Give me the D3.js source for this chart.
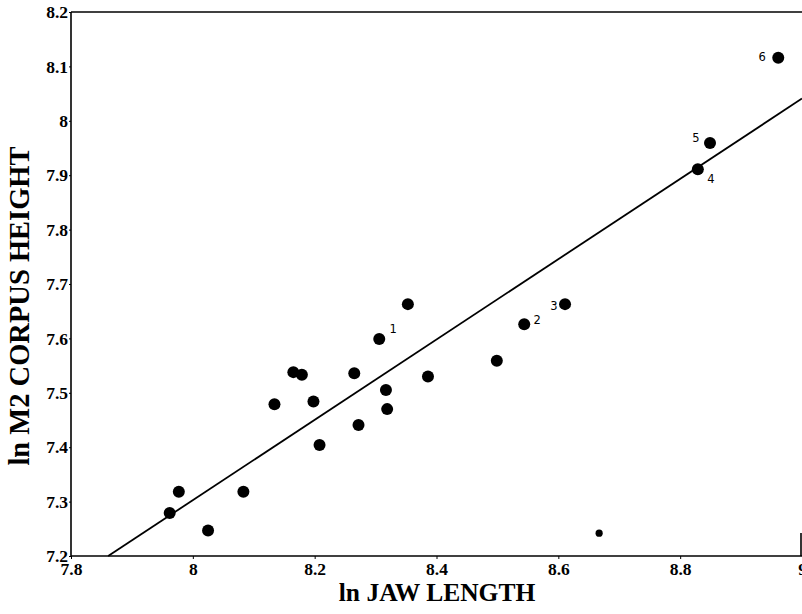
<!DOCTYPE html>
<html>
<head>
<meta charset="utf-8">
<script src="https://cdn.jsdelivr.net/npm/d3@7.9.0/dist/d3.min.js"></script>
<style>
  body { margin: 0; background: #fff; }
  svg { display: block; }
  .axis-title { font-family: "Liberation Serif", "Times New Roman", serif; font-weight: bold; }
  .pt-label { font-family: "DejaVu Sans", sans-serif; font-size: 11.5px; }
</style>
</head>
<body>
<svg id="chart" width="802" height="614"></svg>
<script>
// ln jaw length vs ln M2 corpus height
const jawLength = [7.962, 7.977, 8.025, 8.083, 8.134, 8.165, 8.179, 8.198, 8.208, 8.265, 8.272,
  8.306, 8.317, 8.319, 8.353, 8.386, 8.499, 8.544, 8.611, 8.829, 8.849, 8.961];
const corpusHeight = [7.279, 7.318, 7.247, 7.318, 7.479, 7.538, 7.533, 7.484, 7.404, 7.536, 7.441,
  7.599, 7.505, 7.470, 7.663, 7.530, 7.559, 7.626, 7.663, 7.911, 7.959, 8.116];
// numbered specimens: index into the arrays above, label offset
const labelIndex = [11, 17, 18, 19, 20, 21];
const labelText = ['1', '2', '3', '4', '5', '6'];
const labelDx = [14, 13, -11, 13, -14, -16];
const labelDy = [-9, -4, 2, 10, -5, 0];

// the small dot
const smallX = [8.667];
const smallY = [7.242];

// fitted line endpoints
const fitX = [7.861, 9.0];
const fitY = [7.2, 8.041];

const xTicks = [7.8, 8, 8.2, 8.4, 8.6, 8.8, 9];
const yTicks = [7.2, 7.3, 7.4, 7.5, 7.6, 7.7, 7.8, 7.9, 8, 8.1, 8.2];

const svg = d3.select('#chart');
const x = d3.scaleLinear().domain([7.8, 9]).range([71, 802]);
const y = d3.scaleLinear().domain([7.2, 8.2]).range([556, 12]);

/*frame*/
const frame = svg.append('g').attr('stroke', '#000').attr('stroke-width', 1.6);
frame.append('line').attr('x1', x(7.8)).attr('x2', x(7.8)).attr('y1', y(8.2)).attr('y2', y(7.2));
frame.append('line').attr('x1', x(7.8)).attr('x2', 802).attr('y1', y(7.2)).attr('y2', y(7.2));
frame.append('line').attr('x1', x(7.8)).attr('x2', 802).attr('y1', y(8.2)).attr('y2', y(8.2));
frame.append('line').attr('x1', 801).attr('x2', 801).attr('y1', 533).attr('y2', y(7.2));

/*axes*/
function styleTicks(g) {
  g.select('.domain').remove();
  g.selectAll('text')
    .attr('fill', '#000')
    .style('font-family', '"Liberation Serif", "Times New Roman", serif')
    .style('font-weight', 'bold')
    .style('font-size', '17.5px');
}

svg.append('g')
  .attr('transform', `translate(0,${y(7.2)})`)
  .call(d3.axisBottom(x).tickValues(xTicks).tickSize(3).tickPadding(4).tickFormat(d3.format('')))
  .call(styleTicks);

svg.append('g')
  .attr('transform', `translate(${x(7.8)},0)`)
  .call(d3.axisLeft(y).tickValues(yTicks).tickSize(2).tickPadding(1).tickFormat(d3.format('')))
  .call(styleTicks);

/*titles*/
svg.append('text').attr('class', 'axis-title')
  .attr('x', 437).attr('y', 601).attr('text-anchor', 'middle')
  .attr('font-size', 25.5).text('ln JAW LENGTH');
svg.append('text').attr('class', 'axis-title')
  .attr('transform', 'translate(29,306) rotate(-90)').attr('text-anchor', 'middle')
  .attr('font-size', 28.5).text('ln M2 CORPUS HEIGHT');

/*fit line*/
svg.append('line')
  .attr('x1', x(fitX[0])).attr('y1', y(fitY[0]))
  .attr('x2', x(fitX[1])).attr('y2', y(fitY[1]))
  .attr('stroke', '#000').attr('stroke-width', 1.8);

/*points*/
svg.append('g').selectAll('circle')
  .data(jawLength)
  .join('circle')
  .attr('cx', d => x(d))
  .attr('cy', (d, i) => y(corpusHeight[i]))
  .attr('r', 6)
  .attr('fill', '#000');

svg.append('g').selectAll('circle')
  .data(smallX)
  .join('circle')
  .attr('cx', d => x(d))
  .attr('cy', (d, i) => y(smallY[i]))
  .attr('r', 3.6)
  .attr('fill', '#000');

svg.append('g').selectAll('text')
  .data(labelIndex)
  .join('text')
  .attr('class', 'pt-label')
  .attr('x', (d, i) => x(jawLength[d]) + labelDx[i])
  .attr('y', (d, i) => y(corpusHeight[d]) + labelDy[i])
  .attr('text-anchor', 'middle')
  .attr('dominant-baseline', 'middle')
  .text((d, i) => labelText[i]);
</script>
</body>
</html>
